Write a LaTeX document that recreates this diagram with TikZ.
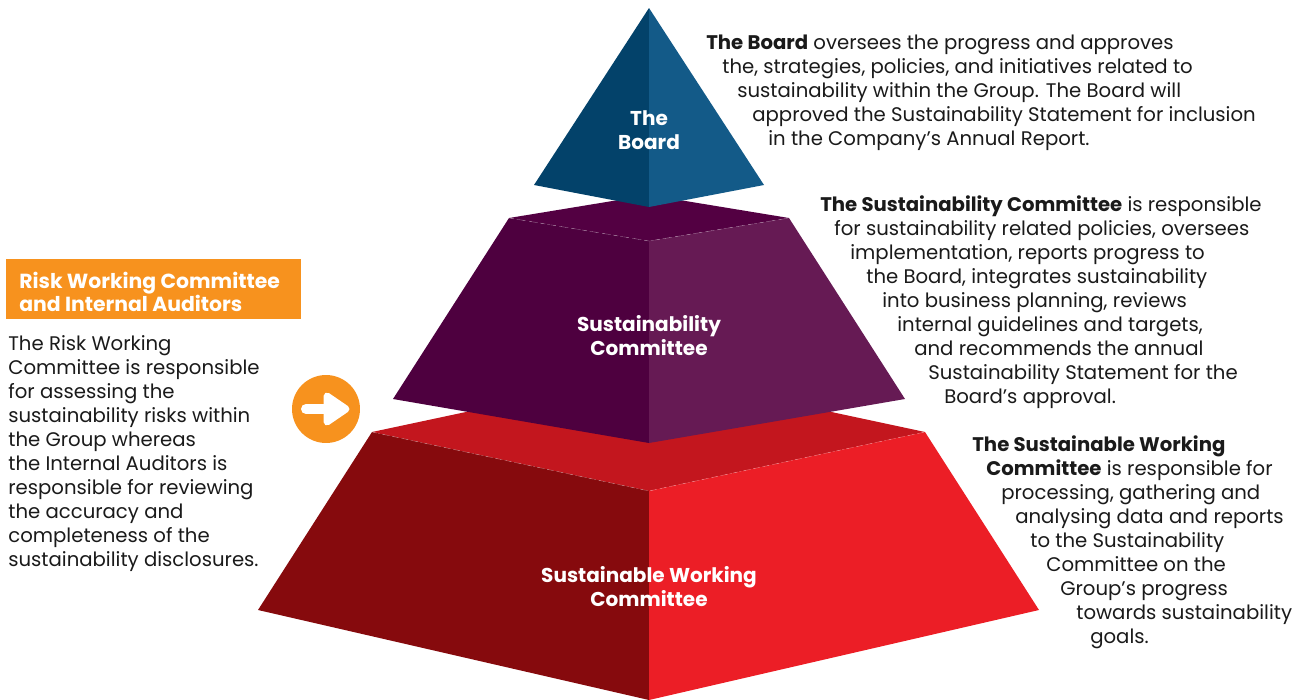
\documentclass[tikz,border=0pt]{standalone}
\usepackage{fontspec}
\setmainfont{Poppins}
\usetikzlibrary{positioning}
\definecolor{boardL}{HTML}{03426A}
\definecolor{boardR}{HTML}{135A88}
\definecolor{sustT}{HTML}{530042}
\definecolor{sustL}{HTML}{4E003F}
\definecolor{sustR}{HTML}{661A54}
\definecolor{workT}{HTML}{C3161E}
\definecolor{workL}{HTML}{860A0D}
\definecolor{workR}{HTML}{EC1E26}
\definecolor{riskOrange}{HTML}{F7921E}
\definecolor{bodyText}{HTML}{1A1A1A}
\tikzset{
  desc/.style={anchor=north west, inner sep=0pt, align=left, text=bodyText,
    font=\fontsize{11.2}{13.66}\selectfont},
  tierlabel/.style={inner sep=0pt, align=center, text=white,
    font=\fontsize{11.4}{13.66}\selectfont\bfseries},
  edge/.style={white, opacity=0.3, line width=0.3pt, dashed}
}

\begin{document}
\begin{tikzpicture}[x=0.02cm, y=-0.02cm]
	\useasboundingbox (0,0) rectangle (1306,700);
	%\draw [help lines, step=100] (0,0) grid (1306,700);
	% bottom tier
	\fill [workT] (372,432) -- (649,373) -- (925,432) -- (649,491) -- cycle;
	\fill [workL] (372,432) -- (649,491) -- (649,700) -- (258,610) -- cycle;
	\fill [workR] (649,491) -- (925,432) -- (1039,610) -- (649,700) -- cycle;
	\draw [edge] (372,432) -- (649,491) -- (925,432);
	% middle tier
	\fill [sustT] (509,218) -- (649,195) -- (789,218) -- (649,241) -- cycle;
	\fill [sustL] (509,218) -- (649,241) -- (649,443) -- (393,399) -- cycle;
	\fill [sustR] (649,241) -- (789,218) -- (905,399) -- (649,443) -- cycle;
	\draw [edge] (509,218) -- (649,241) -- (789,218);
	% top tier
	\fill [boardL] (649,8) -- (649,207) -- (534,185) -- cycle;
	\fill [boardR] (649,8) -- (764,185) -- (649,207) -- cycle;

	\node [tierlabel] (board) at (649,130) {The\\Board};
	\node [tierlabel] (sust) at (649,336) {Sustainability\\Committee};
	\node [tierlabel] (work) at (649,587) {Sustainable Working\\Committee};

	% left panel
	\fill [riskOrange] (6,259) rectangle (301,319);
	\node [desc, text=white, font=\fontsize{11.6}{13.1}\selectfont\bfseries] (riskhead) at (19,272)
		{Risk Working Committee\\and Internal Auditors};
	\node [desc] (risktext) at (8,335) {The Risk Working\\
		Committee is responsible\\
		for assessing the\\
		sustainability risks within\\
		the Group whereas\\
		the Internal Auditors is\\
		responsible for reviewing\\
		the accuracy and\\
		completeness of the\\
		sustainability disclosures.};
	\fill [riskOrange] (326,409) circle (0.68cm);
	\draw [white, line width=0.2cm, line cap=round] (306,409) -- (328,409);
	\filldraw [white, line width=0.14cm, line join=round] (327,396) -- (346,409) -- (327,422) -- cycle;

	% right descriptions
	\node [desc] (boardtext) at (706,35) {\textbf{The Board} oversees the progress and approves\\
		\hspace*{0.32cm}the, strategies, policies, and initiatives related to\\
		\hspace*{0.62cm}sustainability within the Group. The Board will\\
		\hspace*{0.92cm}approved the Sustainability Statement for inclusion\\
		\hspace*{1.24cm}in the Company’s Annual Report.};
	\node [desc] (susttext) at (820,195) {\textbf{The Sustainability Committee} is responsible\\
		\hspace*{0.28cm}for sustainability related policies, oversees\\
		\hspace*{0.60cm}implementation, reports progress to\\
		\hspace*{0.92cm}the Board, integrates sustainability\\
		\hspace*{1.24cm}into business planning, reviews\\
		\hspace*{1.54cm}internal guidelines and targets,\\
		\hspace*{1.88cm}and recommends the annual\\
		\hspace*{2.16cm}Sustainability Statement for the\\
		\hspace*{2.48cm}Board’s approval.};
	\node [desc] (worktext) at (972,435) {\textbf{The Sustainable Working}\\
		\hspace*{0.28cm}\textbf{Committee} is responsible for\\
		\hspace*{0.58cm}processing, gathering and\\
		\hspace*{0.86cm}analysing data and reports\\
		\hspace*{1.16cm}to the Sustainability\\
		\hspace*{1.48cm}Committee on the\\
		\hspace*{1.76cm}Group’s progress\\
		\hspace*{2.08cm}towards sustainability\\
		\hspace*{2.36cm}goals.};
\end{tikzpicture}
\end{document}
